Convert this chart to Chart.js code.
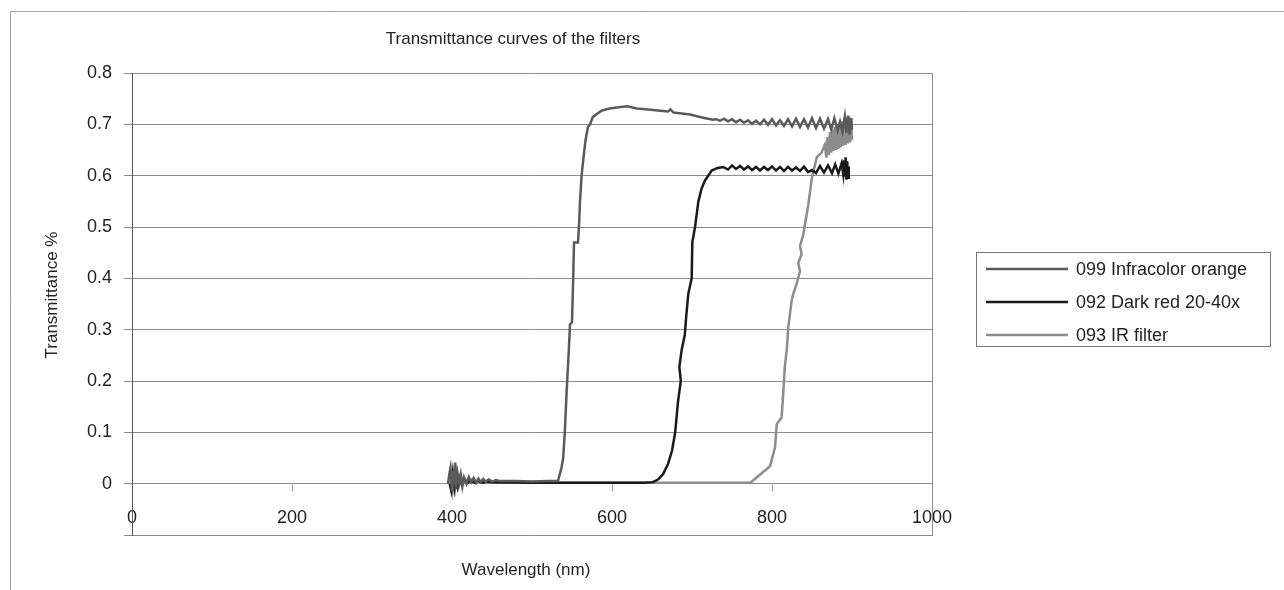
<!DOCTYPE html>
<html>
<head>
<meta charset="utf-8">
<title>Transmittance curves of the filters</title>
<script src="https://cdn.jsdelivr.net/npm/chart.js@4.4.1/dist/chart.umd.min.js"></script>
<style>
  html, body { margin: 0; padding: 0; background: #fff; }
  #wrap { width: 1284px; height: 590px; }
</style>
</head>
<body>
<div id="wrap"><canvas id="grafico" width="1284" height="590"></canvas></div>
<script>
// valores (longitud de onda nm / transmitancia)
const wl099 = [395, 397, 398, 400, 401, 403, 404, 405, 407, 409, 411, 413, 415, 418, 421, 424, 427, 430, 433, 436, 439, 442, 446, 450, 455, 460, 480, 500, 520, 532.5,
  535, 537, 539, 541, 543, 546, 547.5, 550, 551.5, 552.5, 557.5, 559, 560, 562, 564, 567, 570, 572.5, 576, 581, 587.5, 597, 606, 619, 631, 645, 664, 670, 673, 677, 682, 697.5, 714, 726,
  730, 735, 740, 745, 750, 755, 760, 765, 770, 775, 780, 785, 790, 795, 800, 805, 810, 815, 820, 825, 830, 835, 840, 845, 850, 855, 860, 865, 870, 874, 878, 882, 885, 888, 891, 893, 895, 897, 899, 900];
const t099 = [0.0, 0.022, 0.03, -0.012, 0.025, 0.0, 0.041, -0.01, 0.02, 0.002, 0.018, -0.005, 0.012, 0.0, 0.013, 0.003, 0.011, 0.002, 0.010, 0.003, 0.009, 0.004, 0.008, 0.004, 0.007, 0.005, 0.005, 0.004, 0.005, 0.005,
  0.02, 0.032, 0.05, 0.10, 0.17, 0.26, 0.31, 0.315, 0.40, 0.47, 0.47, 0.51, 0.55, 0.60, 0.63, 0.67, 0.695, 0.70, 0.714, 0.72, 0.727, 0.731, 0.733, 0.735, 0.731, 0.729, 0.726, 0.725, 0.729, 0.723, 0.722, 0.719, 0.713, 0.709,
  0.710, 0.707, 0.711, 0.706, 0.710, 0.704, 0.709, 0.703, 0.708, 0.701, 0.707, 0.700, 0.709, 0.699, 0.710, 0.698, 0.708, 0.697, 0.710, 0.696, 0.711, 0.695, 0.710, 0.694, 0.712, 0.693, 0.711, 0.692, 0.710, 0.690, 0.712, 0.688, 0.705, 0.686, 0.715, 0.684, 0.717, 0.680, 0.712, 0.690];

const wl092 = [397, 399, 401, 403, 405, 407, 409, 412, 415, 419, 423, 428, 433, 438, 444, 450, 500, 550, 600, 640, 651,
  657.5, 664, 670, 675, 679, 682.5, 686, 684.2, 687, 691, 693, 695.4, 699.6, 700.4, 703.8, 708, 712, 716, 724.6, 732, 739,
  745, 750, 755, 760, 765, 770, 775, 780, 785, 790, 795, 800, 805, 810, 815, 820, 825, 830, 835, 840, 845, 850, 855, 860, 865, 870, 875, 879, 883, 887, 889, 890, 891, 892, 893, 894, 895, 896];
const t092 = [0.0, -0.013, 0.02, -0.008, 0.015, -0.005, 0.01, -0.002, 0.008, 0.001, 0.006, 0.002, 0.005, 0.002, 0.004, 0.003, 0.002, 0.002, 0.002, 0.002, 0.003,
  0.008, 0.019, 0.038, 0.064, 0.10, 0.16, 0.20, 0.227, 0.26, 0.29, 0.33, 0.37, 0.40, 0.47, 0.50, 0.55, 0.575, 0.59, 0.61, 0.615, 0.617,
  0.612, 0.620, 0.613, 0.619, 0.612, 0.618, 0.611, 0.617, 0.610, 0.617, 0.611, 0.618, 0.610, 0.617, 0.609, 0.617, 0.610, 0.616, 0.609, 0.618, 0.607, 0.611, 0.605, 0.619, 0.606, 0.620, 0.605, 0.622, 0.604, 0.624, 0.603, 0.630, 0.598, 0.636, 0.592, 0.628, 0.596, 0.618, 0.600];

const wl093 = [398, 400, 402, 404, 406, 408, 410, 413, 416, 420, 424, 429, 434, 440, 446, 452, 500, 600, 700, 773,
  797.5, 803.8, 805.9, 812, 814, 816, 818.4, 820.4, 824.6, 826.6, 830.9, 835, 832.9, 837, 835, 839, 843.3, 845.4, 850, 856, 862, 866,
  868, 869.5, 871, 872.5, 874, 875.5, 877, 878.5, 880, 881.5, 883, 884.5, 886, 887.5, 889, 890.5, 892, 893.5, 895, 896.5, 898, 899, 900];
const t093 = [0.005, -0.014, 0.025, -0.006, 0.02, -0.003, 0.013, 0.0, 0.01, 0.002, 0.008, 0.003, 0.006, 0.002, 0.005, 0.003, 0.002, 0.002, 0.002, 0.002,
  0.034, 0.071, 0.116, 0.129, 0.175, 0.227, 0.26, 0.305, 0.357, 0.37, 0.39, 0.414, 0.43, 0.447, 0.463, 0.485, 0.524, 0.544, 0.597, 0.636, 0.645, 0.66,
  0.635, 0.675, 0.64, 0.685, 0.645, 0.69, 0.648, 0.695, 0.65, 0.70, 0.652, 0.703, 0.655, 0.706, 0.658, 0.71, 0.66, 0.712, 0.663, 0.715, 0.665, 0.712, 0.67];

const nombres = ['099 Infracolor orange', '092 Dark red 20-40x', '093 IR filter'];
const colores = ['#5a5a5a', '#1a1a1a', '#8c8c8c'];

const xTicks = [0, 200, 400, 600, 800, 1000];
const xTickLabels = ['0', '200', '400', '600', '800', '1000'];
const yTicks = [-0.1, 0, 0.1, 0.2, 0.3, 0.4, 0.5, 0.6, 0.7, 0.8];
const yTickLabels = ['', '0', '0.1', '0.2', '0.3', '0.4', '0.5', '0.6', '0.7', '0.8'];

const titulo = 'Transmittance curves of the filters';
const tituloX = 'Wavelength (nm)';
const tituloY = 'Transmittance %';

const FUENTE = "'Liberation Sans', Arial, sans-serif";
const GRIS = '#8c8c8c';

function puntos(xs, ys) {
  return xs.map((x, i) => ({ x: x, y: ys[i] }));
}

// marco exterior, etiquetas y marcas del eje en y=0, titulos y leyenda
const extras = {
  id: 'extras',
  beforeDraw(chart) {
    const ctx = chart.ctx;
    const sx = chart.scales.x, sy = chart.scales.y;
    ctx.save();
    ctx.fillStyle = '#fff';
    ctx.fillRect(0, 0, chart.width, chart.height);
    ctx.strokeStyle = '#a0a0a0';
    ctx.lineWidth = 1;
    ctx.beginPath();
    ctx.moveTo(10.5, chart.height);
    ctx.lineTo(10.5, 11.5);
    ctx.lineTo(chart.width, 11.5);
    ctx.stroke();

    // etiquetas del eje x, dentro del area (entre 0 y -0.1)
    const yLab = sy.getPixelForValue(0) + 34;
    ctx.fillStyle = '#222';
    ctx.font = '18px ' + FUENTE;
    ctx.textAlign = 'center';
    ctx.textBaseline = 'middle';
    xTicks.forEach((v, i) => {
      ctx.fillText(xTickLabels[i], sx.getPixelForValue(v), yLab);
    });
    ctx.restore();
  },
  beforeDatasetsDraw(chart) {
    const ctx = chart.ctx;
    const sx = chart.scales.x, sy = chart.scales.y;
    const y0 = Math.round(sy.getPixelForValue(0)) + 0.5;
    ctx.save();
    ctx.strokeStyle = GRIS;
    ctx.lineWidth = 1;
    xTicks.slice(1, -1).forEach(v => {
      const px = Math.round(sx.getPixelForValue(v)) + 0.5;
      ctx.beginPath();
      ctx.moveTo(px, y0);
      ctx.lineTo(px, y0 + 7);
      ctx.stroke();
    });
    ctx.restore();
  },
  afterDraw(chart) {
    const ctx = chart.ctx;
    ctx.save();
    ctx.fillStyle = '#222';
    ctx.font = '17px ' + FUENTE;
    ctx.textAlign = 'center';
    ctx.textBaseline = 'middle';
    ctx.fillText(titulo, 513, 39);
    ctx.fillText(tituloX, 526, 570);
    ctx.save();
    ctx.translate(52, 295);
    ctx.rotate(-Math.PI / 2);
    ctx.fillText(tituloY, 0, 0);
    ctx.restore();

    // leyenda
    ctx.strokeStyle = '#777';
    ctx.lineWidth = 1;
    ctx.strokeRect(976.5, 252.5, 294, 94);
    ctx.font = '18px ' + FUENTE;
    ctx.textAlign = 'left';
    const filas = [269, 302, 335];
    chart.data.datasets.forEach((ds, i) => {
      ctx.strokeStyle = ds.borderColor;
      ctx.lineWidth = ds.borderWidth;
      ctx.beginPath();
      ctx.moveTo(986, filas[i]);
      ctx.lineTo(1068, filas[i]);
      ctx.stroke();
      ctx.fillStyle = '#222';
      ctx.fillText(ds.label, 1076, filas[i] + 1);
    });
    ctx.restore();
  }
};

Chart.defaults.font.family = FUENTE;
Chart.defaults.color = '#222';

const series = [[wl099, t099], [wl092, t092], [wl093, t093]];

new Chart(document.getElementById('grafico'), {
  type: 'scatter',
  data: {
    datasets: series.map((s, i) => ({
      label: nombres[i],
      data: puntos(s[0], s[1]),
      showLine: true,
      borderColor: colores[i],
      backgroundColor: colores[i],
      borderWidth: 2.5,
      pointRadius: 0,
      tension: 0,
      fill: false
    }))
  },
  options: {
    responsive: false,
    animation: false,
    events: [],
    layout: { padding: { top: 73, right: 352, bottom: 0, left: 0 } },
    plugins: {
      legend: { display: false },
      title: { display: false },
      tooltip: { enabled: false }
    },
    scales: {
      x: {
        type: 'linear',
        min: 0,
        max: 1000,
        afterBuildTicks: s => { s.ticks = xTicks.map(v => ({ value: v })); },
        afterFit: s => { s.height = 55; },
        ticks: { display: false },
        grid: {
          drawTicks: false,
          color: c => (c.tick && (c.tick.value === 0 || c.tick.value === 1000)) ? GRIS : 'rgba(0,0,0,0)'
        },
        border: { display: true, color: GRIS }
      },
      y: {
        type: 'linear',
        min: -0.1,
        max: 0.8,
        afterBuildTicks: s => { s.ticks = yTicks.map(v => ({ value: v })); },
        afterFit: s => { s.width = 132; },
        ticks: {
          font: { size: 18 },
          padding: 12,
          callback: (v, i) => yTickLabels[i]
        },
        grid: { color: GRIS, tickLength: 8 },
        border: { display: true, color: '#555' }
      }
    }
  },
  plugins: [extras]
});
</script>
</body>
</html>
